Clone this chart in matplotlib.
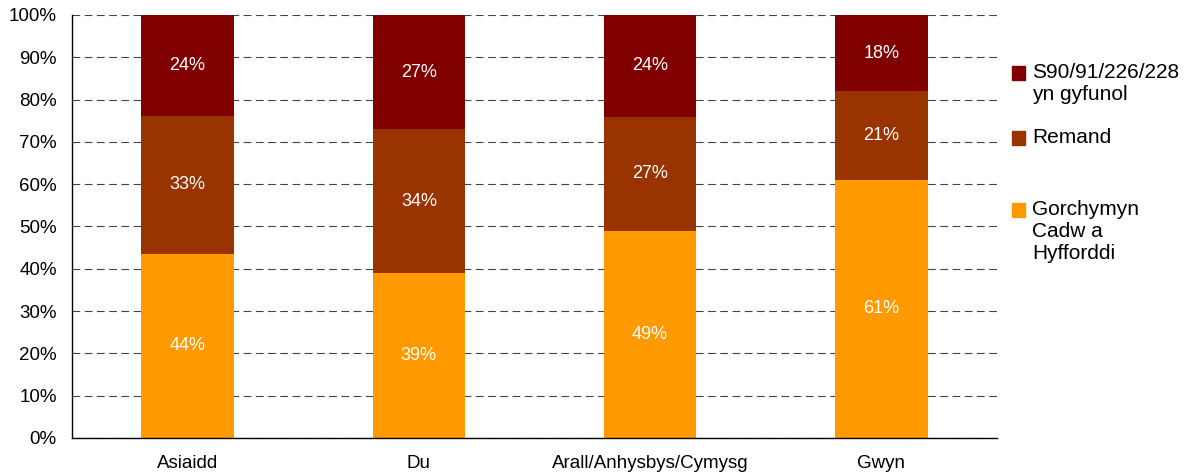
import matplotlib.pyplot as plt
from matplotlib.patches import Rectangle
import numpy as np

plt.rcParams['font.family'] = ['Liberation Sans', 'DejaVu Sans']

categories = ['Asiaidd', 'Du', 'Arall/Anhysbys/Cymysg', 'Gwyn']
series_names = ['Gorchymyn\nCadw a\nHyfforddi', 'Remand', 'S90/91/226/228\nyn gyfunol']
gorchymyn = [44, 39, 49, 61]
remand = [33, 34, 27, 21]
s90 = [24, 27, 24, 18]
colors = ['#FF9900', '#993300', '#800000']
yticks = np.arange(0, 101, 10)

data = np.array([gorchymyn, remand, s90], dtype=float)
shares = data / data.sum(axis=0) * 100   # 100% stacked

W, H = 1204, 474
fig = plt.figure(figsize=(W / 100, H / 100), dpi=100)
ax = fig.add_axes([72 / W, 36 / H, 925 / W, 423 / H])

x = np.arange(len(categories))
bottom = np.zeros(len(categories))
for i in range(len(series_names)):
    ax.bar(x, shares[i], 0.4, bottom=bottom, color=colors[i], zorder=2)
    for j in range(len(categories)):
        ax.text(x[j], bottom[j] + shares[i][j] / 2, f'{data[i][j]:.0f}%',
                ha='center', va='center', color='white', fontsize=13, zorder=3)
    bottom += shares[i]

ax.set_xlim(-0.5, 3.5)
ax.set_ylim(0, 100)
ax.set_yticks(yticks)
ax.set_yticklabels([f'{t}%' for t in yticks], fontsize=13.5)
ax.set_xticks(x)
ax.set_xticklabels(categories, fontsize=13.5)
ax.tick_params(axis='y', length=0, pad=11)
ax.tick_params(axis='x', length=0, pad=12)
ax.yaxis.grid(True, color='#444444', linestyle=(0, (7, 4)), linewidth=0.8, zorder=0)
ax.set_axisbelow(True)
for s in ['top', 'right']:
    ax.spines[s].set_visible(False)
for s in ['left', 'bottom']:
    ax.spines[s].set_linewidth(1.0)

# legend drawn by hand so the swatch sits on the first text line
leg_rows = [73, 138, 210]   # pixel y of first text line, top to bottom
for name, col, yp in zip(series_names[::-1], colors[::-1], leg_rows):
    fy = 1 - yp / H
    fig.patches.append(Rectangle((1012 / W, fy - 7 / H), 13 / W, 14 / H,
                                 transform=fig.transFigure, color=col))
    fig.text(1032 / W, fy + 10 / H, name, ha='left', va='top', fontsize=15,
             linespacing=1.2)

fig.savefig('out.png', dpi=100)
